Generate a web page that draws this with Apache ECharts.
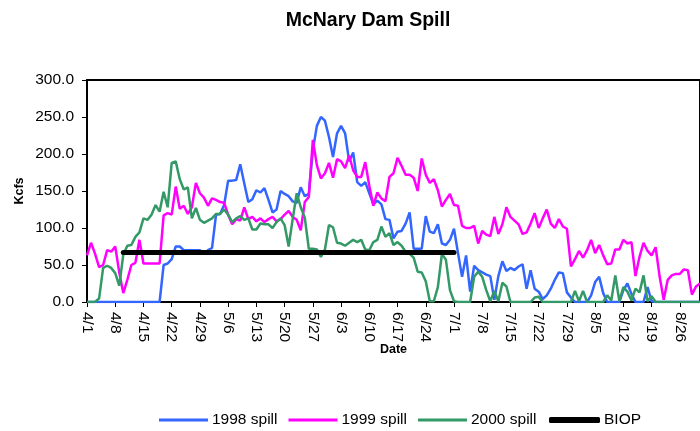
<!DOCTYPE html>
<html>
<head>
<meta charset="utf-8">
<script src="https://cdn.jsdelivr.net/npm/echarts@6/dist/echarts.min.js"></script>
<style>
  html, body { margin: 0; padding: 0; background: #fff; }
  #chart { width: 700px; height: 431px; }
</style>
</head>
<body>
<div id="chart"></div>
<script>
// daily values 4/1 .. 8/31 (kcfs)
const months = [[4, 30], [5, 31], [6, 30], [7, 31], [8, 31]];

const spill1998 = [
  0, 0, 0, 0, 0, 0, 0, 0, 0, 0,
  0, 0, 0, 0, 0, 0, 0, 0, 0, 50,
  52, 58, 75, 75, 70, 70, 70, 70, 70, 65,
  70, 73, 118, 119, 131, 164, 164, 165, 186, 160,
  135, 139, 151, 148, 154, 138, 121, 125, 150, 146,
  143, 136, 134, 155, 143, 146, 205, 238, 250, 245,
  223, 196, 228, 238, 228, 190, 202, 162, 157, 162,
  147, 132, 137, 132, 112, 111, 86, 95, 96, 106,
  121, 72, 72, 72, 116, 95, 93, 105, 79, 77,
  84, 99, 66, 34, 63, 14, 49, 43, 40, 37,
  35, 3, 35, 55, 42, 46, 43, 48, 51, 18,
  43, 18, 14, 4, 9, 18, 30, 40, 39, 13,
  6, 0, 0, 0, 0, 9, 27, 34, 12, 0,
  0, 0, 0, 16, 25, 11, 0, 0, 0, 20,
  1, 0, 0, 0, 0, 0, 0, 0, 0, 0,
  0, 0, 0
];

const spill1999 = [
  63, 80, 65, 47, 50, 70, 68, 75, 40, 12,
  30, 50, 53, 84, 52, 52, 52, 52, 52, 117,
  120, 118, 156, 126, 130, 119, 128, 161, 147, 141,
  130, 140, 138, 135, 134, 118, 105, 112, 110, 128,
  112, 115, 109, 113, 108, 112, 115, 109, 112, 118,
  123, 115, 111, 97, 135, 142, 219, 185, 167, 174,
  188, 168, 193, 190, 181, 198, 178, 169, 169, 189,
  157, 130, 148, 140, 136, 169, 174, 195, 184, 172,
  172, 168, 150, 194, 172, 161, 166, 151, 129, 138,
  146, 131, 130, 103, 100, 100, 103, 79, 96, 91,
  89, 115, 92, 105, 128, 115, 110, 105, 92, 94,
  106, 120, 100, 113, 125, 106, 100, 112, 102, 99,
  48, 58, 69, 60, 70, 84, 66, 77, 63, 51,
  52, 71, 71, 84, 79, 81, 35, 61, 80, 69,
  63, 74, 34, 3, 30, 36, 38, 38, 44, 43,
  10, 21, 25
];

const spill2000 = [
  0, 0, 0, 5, 46, 49, 46, 39, 22, 64,
  76, 77, 88, 94, 113, 111, 118, 131, 122, 149,
  128, 188, 190, 166, 152, 155, 113, 127, 111, 107,
  110, 113, 119, 119, 125, 118, 108, 113, 116, 111,
  113, 98, 98, 106, 105, 105, 100, 108, 113, 104,
  75, 112, 147, 128, 114, 72, 72, 71, 61, 71,
  104, 101, 80, 79, 76, 80, 84, 81, 84, 71,
  70, 81, 84, 102, 88, 93, 77, 81, 76, 68,
  65, 60, 41, 40, 28, 1, 1, 20, 65, 57,
  16, 1, 0, 0, 0, 0, 34, 41, 34, 16,
  1, 15, 1, 26, 21, 0, 0, 0, 0, 0,
  0, 6, 7, 0, 0, 0, 0, 0, 0, 0,
  0, 15, 1, 15, 0, 0, 0, 0, 0, 9,
  2, 36, 1, 20, 14, 2, 18, 13, 36, 1,
  8, 0, 0, 0, 0, 0, 0, 0, 0, 0,
  0, 0, 0
];

const biopDates = ['4/10', '7/1'];
const biopLevel = [67, 67];

const dates = [];
months.forEach(([m, n]) => {
  for (let d = 1; d <= n; d++) dates.push(m + '/' + d);
});

const font = 'Liberation Sans, Arial, sans-serif';
const legendText = {fontFamily: font, fontSize: 15.5, color: '#000', padding: [0, 0, 0, -1]};
const chart = echarts.init(document.getElementById('chart'));

chart.setOption({
  animation: false,
  backgroundColor: '#fff',
  title: {
    text: 'McNary Dam Spill',
    left: 363,
    textAlign: 'center',
    top: 6,
    textStyle: {fontFamily: font, fontSize: 19.5, fontWeight: 'bold', color: '#000'}
  },
  grid: {
    left: 87,
    right: -3,
    top: 80,
    bottom: 129,
    show: true,
    borderColor: '#000',
    borderWidth: 2
  },
  legend: [
    {
      left: 154,
      top: 407,
      icon: 'rect',
      itemWidth: 49,
      itemHeight: 3,
      itemGap: 11,
      textStyle: legendText,
      data: ['1998 spill', '1999 spill', '2000 spill']
    },
    {
      left: 544,
      top: 407,
      icon: 'roundRect',
      itemWidth: 51,
      itemHeight: 6,
      textStyle: legendText,
      data: ['BIOP']
    }
  ],
  xAxis: {
    type: 'category',
    data: dates,
    boundaryGap: false,
    name: 'Date',
    nameLocation: 'middle',
    nameGap: 41,
    nameMoveOverlap: false,
    nameTextStyle: {fontFamily: font, fontSize: 12.5, fontWeight: 'bold', color: '#000'},
    axisLine: {lineStyle: {color: '#000', width: 2}},
    axisTick: {interval: 6, length: 5, lineStyle: {color: '#000', width: 1}},
    axisLabel: {
      interval: 6,
      rotate: -90,
      margin: 10,
      fontFamily: font,
      fontSize: 15.5,
      color: '#000'
    },
    splitLine: {show: false}
  },
  yAxis: {
    type: 'value',
    min: 0,
    max: 300,
    interval: 50,
    name: 'Kcfs',
    nameLocation: 'middle',
    nameGap: 61,
    nameMoveOverlap: false,
    nameTextStyle: {fontFamily: font, fontSize: 12.5, fontWeight: 'bold', color: '#000'},
    axisLine: {show: true, lineStyle: {color: '#000', width: 2}},
    axisTick: {show: true, length: 5, lineStyle: {color: '#000', width: 1}},
    axisLabel: {
      margin: 13,
      fontFamily: font,
      fontSize: 15.5,
      color: '#000',
      formatter: v => v.toFixed(1)
    },
    splitLine: {show: false}
  },
  series: [
    {
      name: '1998 spill',
      type: 'line',
      symbol: 'none',
      data: spill1998,
      lineStyle: {color: '#3366ff', width: 2.5},
      itemStyle: {color: '#3366ff'}
    },
    {
      name: '1999 spill',
      type: 'line',
      symbol: 'none',
      data: spill1999,
      lineStyle: {color: '#ff00ff', width: 2.5},
      itemStyle: {color: '#ff00ff'}
    },
    {
      name: '2000 spill',
      type: 'line',
      symbol: 'none',
      data: spill2000,
      lineStyle: {color: '#339966', width: 2.5},
      itemStyle: {color: '#339966'}
    },
    {
      name: 'BIOP',
      type: 'line',
      symbol: 'none',
      data: biopDates.map((d, i) => [d, biopLevel[i]]),
      lineStyle: {color: '#000', width: 5, cap: 'round'},
      itemStyle: {color: '#000'}
    }
  ]
});
</script>
</body>
</html>
